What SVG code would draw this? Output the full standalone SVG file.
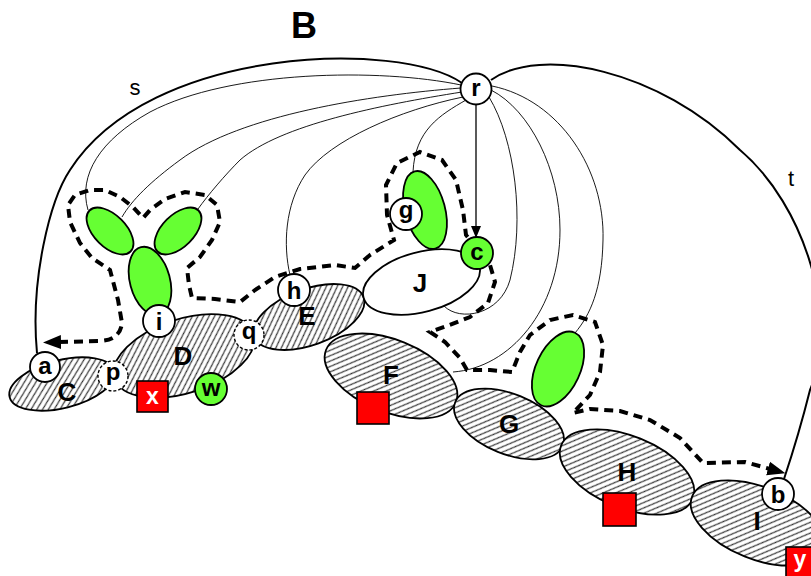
<svg xmlns="http://www.w3.org/2000/svg" width="811" height="576" viewBox="0 0 811 576">
<defs>
<pattern id="hatch" patternUnits="userSpaceOnUse" width="7" height="7">
<rect width="7" height="7" fill="#fff"/>
<path d="M-1,1 L1,-1 M0,7 L7,0 M6,8 L8,6" stroke="#222" stroke-width="1.1"/>
</pattern>
<marker id="bigArrow" markerUnits="userSpaceOnUse" markerWidth="20" markerHeight="16" viewBox="0 0 20 16" refX="2" refY="8" orient="auto-start-reverse">
<path d="M0,1 L18,8 L0,15 z" fill="#000"/>
</marker>
<marker id="smallArrow" markerUnits="userSpaceOnUse" markerWidth="12" markerHeight="12" viewBox="0 0 12 12" refX="11" refY="6" orient="auto">
<path d="M0,1 L12,6 L0,11 z" fill="#000"/>
</marker>
<style>
.hat{fill:url(#hatch);stroke:#000;stroke-width:1.8}
.grn{fill:#66ff33;stroke:#000;stroke-width:1.8}
.wht{fill:#fff;stroke:#000;stroke-width:1.8}
.dsh{fill:#fff;stroke:#000;stroke-width:1.4;stroke-dasharray:3 2}
.red{fill:#ff0000;stroke:#000;stroke-width:1.6}
.thin{fill:none;stroke:#000;stroke-width:0.9}
.thick{fill:none;stroke:#000;stroke-width:2}
.bound{fill:none;stroke:#000;stroke-width:4;stroke-dasharray:9 6}
.lbl{font-family:"Liberation Sans",Arial,sans-serif;font-weight:bold;font-size:26px;text-anchor:middle;fill:#000}
.cl{font-family:"Liberation Sans",Arial,sans-serif;font-weight:bold;font-size:24px;text-anchor:middle;fill:#000}
.wl{font-family:"Liberation Sans",Arial,sans-serif;font-weight:bold;font-size:23px;text-anchor:middle;fill:#fff}
.el{font-family:"Liberation Sans",Arial,sans-serif;font-size:22px;text-anchor:middle;fill:#000}
</style>
</defs>
<rect width="811" height="576" fill="#fff"/>
<text x="304" y="38" style="font-family:'Liberation Sans',Arial,sans-serif;font-weight:bold;font-size:36px;text-anchor:middle">B</text>

<g id="connectors">
<path id="s" class="thick" d="M462,83 C400,40 150,45 70,170 C50,200 30,280 37,353"/>
<text class="el" x="135" y="95">s</text>
<path id="t" class="thick" d="M491,80 C540,45 660,70 740,150 C805,205 840,320 810,390 C800,430 792,455 784,479"/>
<text class="el" x="791" y="186">t</text>
<path class="thin" d="M461,85 C380,68 230,70 150,112 C100,140 78,175 88,210"/>
<path class="thin" d="M461,88 C370,95 240,115 180,160 C150,182 132,200 122,217"/>
<path class="thin" d="M462,92 C380,105 280,125 240,160 C225,175 208,195 198,209"/>
<path class="thin" d="M463,97 C400,110 330,140 305,175 C285,205 283,245 290,275"/>
<path class="thin" d="M466,100 C440,115 415,130 413,172"/>
<path class="thin" d="M489,97 C515,140 525,220 510,280 C500,315 460,322 444,306"/>
<path class="thin" d="M491,90 C530,110 560,170 560,230 C560,310 510,368 453,372"/>
<path class="thin" d="M492,86 C560,100 605,170 603,240 C602,290 590,315 575,333"/>
<line x1="476" y1="105" x2="476" y2="237" stroke="#000" stroke-width="1.3" marker-end="url(#smallArrow)"/>
<path id="boundary" class="bound" marker-start="url(#bigArrow)" marker-end="url(#bigArrow)" d="M59,342 L100,341 Q120,340 122,323 L118,300 L110,270 L104,266 L92,258 L80,243 L70,222 L68,205 L75,195 L90,190 L105,190 L120,197 L133,207 L143,218 L150,210 L165,199 L185,192 L205,195 L217,205 L220,222 L212,240 L200,257 L187,268 L189,285 L192,298 L215,299 L240,302 L255,290 L275,277 L300,269 L335,265 L355,268 L370,255 L394,240 L387,215 L386,185 L397,163 L420,152 L442,160 L456,180 L463,210 L466,235 L490,265 L495,282 L488,303 L470,317 L447,326 L430,332 L445,342 L460,358 L467,370 L490,370 L512,372 L520,352 L530,335 L550,320 L573,315 L595,322 L603,345 L600,372 L590,395 L573,413 L590,409 L620,411 L650,420 L680,438 L703,463 L745,462 L770,469"/>
</g>

<g id="C"><ellipse class="hat" cx="62" cy="384" rx="54" ry="24" transform="rotate(-14 62 384)"/><text class="lbl" x="67" y="401">C</text></g>
<g id="D"><ellipse class="hat" cx="184" cy="356" rx="73" ry="37" transform="rotate(-18 184 356)"/><text class="lbl" x="183" y="365">D</text></g>
<g id="E"><ellipse class="hat" cx="309" cy="317" rx="58" ry="28" transform="rotate(-20 309 317)"/><text class="lbl" x="307" y="325">E</text></g>
<g id="F"><ellipse class="hat" cx="391" cy="376" rx="70" ry="36" transform="rotate(22 391 376)"/><text class="lbl" x="391" y="384">F</text></g>
<g id="G"><ellipse class="hat" cx="509" cy="424" rx="58" ry="30" transform="rotate(22 509 424)"/><text class="lbl" x="509" y="433">G</text></g>
<g id="H"><ellipse class="hat" cx="627" cy="472" rx="71" ry="36" transform="rotate(22 627 472)"/><text class="lbl" x="627" y="481">H</text></g>
<g id="I"><ellipse class="hat" cx="758" cy="523" rx="71" ry="36" transform="rotate(22 758 523)"/><text class="lbl" x="757" y="530">I</text></g>

<g id="green1"><ellipse class="grn" cx="110" cy="231" rx="16" ry="29" transform="rotate(-45 110 231)"/></g>
<g id="green2"><ellipse class="grn" cx="178" cy="231" rx="16" ry="29" transform="rotate(45 178 231)"/></g>
<g id="green3"><ellipse class="grn" cx="150" cy="281" rx="20" ry="35" transform="rotate(-15 150 281)"/></g>
<g id="greenG"><ellipse class="grn" cx="425" cy="210" rx="20" ry="40" transform="rotate(-15 425 210)"/></g>
<g id="greenH"><ellipse class="grn" cx="558" cy="369" rx="22" ry="40" transform="rotate(25 558 369)"/></g>
<g id="J"><ellipse class="wht" cx="421.5" cy="282" rx="60" ry="30" transform="rotate(-15 421.5 282)"/><text class="lbl" x="420" y="292">J</text></g>

<g id="r"><circle class="wht" cx="476" cy="89" r="15.5"/><text class="cl" x="476" y="96">r</text></g>
<g id="g"><circle class="wht" cx="406" cy="214" r="16"/><text class="cl" x="406" y="218">g</text></g>
<g id="c"><circle class="grn" cx="477" cy="253" r="16"/><text class="cl" x="477" y="260">c</text></g>
<g id="h"><circle class="wht" cx="294" cy="290" r="16"/><text class="cl" x="294" y="299">h</text></g>
<g id="i"><circle class="wht" cx="159" cy="321" r="16"/><text class="cl" x="159" y="330">i</text></g>
<g id="a"><circle class="wht" cx="45" cy="367" r="15"/><text class="cl" x="45" y="374">a</text></g>
<g id="p"><circle class="dsh" cx="113" cy="376" r="15"/><text class="cl" x="113" y="380">p</text></g>
<g id="q"><circle class="dsh" cx="249" cy="335" r="15"/><text class="cl" x="249" y="339">q</text></g>
<g id="w"><circle class="grn" cx="211" cy="389" r="16"/><text class="cl" x="211" y="396">w</text></g>
<g id="b"><circle class="wht" cx="778" cy="494" r="16"/><text class="cl" x="778" y="503">b</text></g>
<g id="x"><rect class="red" x="137" y="381" width="31" height="31"/><text class="wl" x="152.5" y="404">x</text></g>
<g id="sqF"><rect class="red" x="357" y="392" width="32" height="32"/></g>
<g id="sqH"><rect class="red" x="603" y="493" width="33" height="33"/></g>
<g id="y"><rect class="red" x="786" y="547" width="32" height="32"/><text class="wl" x="800" y="567">y</text></g>
</svg>
